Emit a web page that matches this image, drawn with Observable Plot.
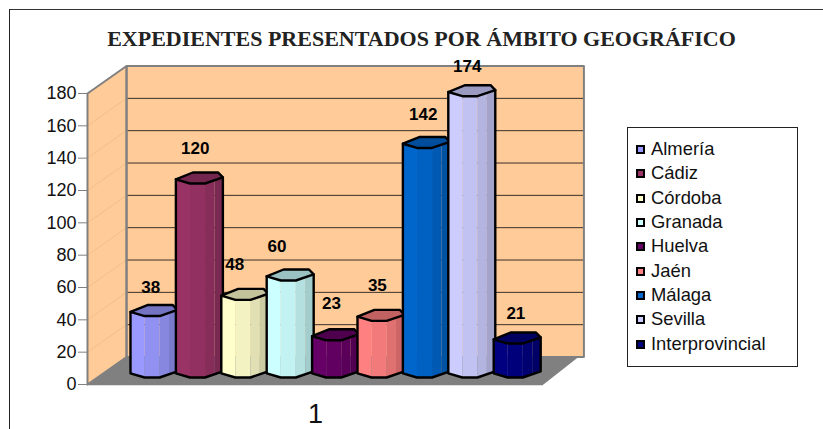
<!DOCTYPE html>
<html>
<head>
<meta charset="utf-8">
<script src="https://cdn.jsdelivr.net/npm/d3@7"></script>
<script src="https://cdn.jsdelivr.net/npm/@observablehq/plot@0.6"></script>
<style>
  html, body { margin: 0; padding: 0; background: #fff; }
  #chart { position: relative; width: 823px; height: 429px; overflow: hidden; }
  #chart svg { position: absolute; left: 0; top: 0; background: transparent; }
  #outline { position: absolute; left: 9px; top: 9px; width: 830px; height: 440px; border-left: 1px solid #222; border-top: 1px solid #333; }
  #legend { position: absolute; left: 627px; top: 127px; width: 169px; height: 238px; border: 1px solid #222; background: #fff; font: 18.4px "Liberation Sans", sans-serif; color: #111; }
  #legend div { position: absolute; left: 23px; line-height: 20px; white-space: nowrap; }
  #legend i { position: absolute; left: 8px; width: 5px; height: 5px; border: 2px solid #000; }
</style>
</head>
<body>
<div id="chart"><div id="outline"></div></div>
<script>
const titleText = "EXPEDIENTES PRESENTADOS POR ÁMBITO GEOGRÁFICO";
const categories = ["Almería", "Cádiz", "Córdoba", "Granada", "Huelva", "Jaén", "Málaga", "Sevilla", "Interprovincial"];
const values = [38, 120, 48, 60, 23, 35, 142, 174, 21];
const colors = ["#9999FF", "#993366", "#FFFFCC", "#CCFFFF", "#660066", "#FF8080", "#0066CC", "#CCCCFF", "#000080"];
const yTicks = [0, 20, 40, 60, 80, 100, 120, 140, 160, 180];
const xTickLabel = "1";

// Label nudges (category slots / value units), matching the reference placement
const labelNudge = [-0.07, -0.09, -0.22, -0.29, -0.09, -0.08, -0.07, -0.1, -0.03];
const labelLift = [-2.5, 1.2, 1.2, 0.6, 2.5, 1.2, 0, -1.9, -1.9];

// Projection constants, in data units
const DEPTH_X = 0.86, DEPTH_Y = 17;
const X_MIN = -0.947, X_MAX = 9.097;
const BACK_RIGHT = X_MAX + 0.89, FLOOR_RIGHT = X_MAX + 0.77;
const BASE = 4.33, WIDTH = 1.035;
const shades = [1, 0.95, 0.88, 0.8];
const bands = [0, 0.3, 0.62, 0.82, 1];
const rimL = 2.6, rimR = 3.8, rimTop = 6.8;

function rim(f) {
  if (f < 0.3) return rimL * (1 - f / 0.3);
  if (f <= 0.62) return 0;
  return rimR * (f - 0.62) / 0.38;
}
function shade(c, k) {
  const r = d3.rgb(c);
  return d3.rgb(r.r * k, r.g * k, r.b * k).formatHex();
}
const poly = (pts) => pts.map(([x, y]) => ({x, y}));
const closed = (pts) => poly([...pts, pts[0]]);
const shape = (pts, fill, stroke, strokeWidth = 1) =>
  Plot.line(closed(pts), {x: "x", y: "y", fill, stroke, strokeWidth});

const floor = [[X_MIN, 0], [X_MIN + DEPTH_X, DEPTH_Y], [FLOOR_RIGHT, DEPTH_Y], [X_MAX, 0]];
const sideWall = [[X_MIN, 0], [X_MIN, 180], [X_MIN + DEPTH_X, 180 + DEPTH_Y], [X_MIN + DEPTH_X, DEPTH_Y]];
const backWall = [[X_MIN + DEPTH_X, DEPTH_Y], [X_MIN + DEPTH_X, 180 + DEPTH_Y], [BACK_RIGHT, 180 + DEPTH_Y], [BACK_RIGHT, DEPTH_Y]];

const gridTicks = yTicks.slice(1, -1);
const backGrid = gridTicks.flatMap((t) => [
  {t, x: X_MIN + DEPTH_X, y: t + DEPTH_Y},
  {t, x: BACK_RIGHT, y: t + DEPTH_Y}
]);
const sideGrid = gridTicks.flatMap((t) => [
  {t, x: X_MIN, y: t},
  {t, x: X_MIN + DEPTH_X, y: t + DEPTH_Y}
]);

function cylinder(v, i) {
  const x = (f) => i + f * WIDTH;
  const top = v + BASE;
  const marks = [];
  bands.slice(0, -1).forEach((f, b) => {
    const g = bands[b + 1];
    const pts = [[x(f), BASE + rim(f)], [x(f), top + rim(f)]];
    pts.push([x(g), top + rim(g)], [x(g), BASE + rim(g)]);
    marks.push(shape(pts, shade(colors[i], shades[b]), "none"));
  });
  const body = [
    [x(0), top + rimL], [x(0), BASE + rimL], [x(0.3), BASE], [x(0.62), BASE],
    [x(1), BASE + rimR], [x(1), top + rimR]
  ];
  const cap = [
    [x(0), top + rimL], [x(0.3), top], [x(0.62), top], [x(1), top + rimR],
    [x(0.9), top + rimTop], [x(0.36), top + rimTop]
  ];
  marks.push(Plot.line(poly(body), {x: "x", y: "y", stroke: "#000", strokeWidth: 2.4}));
  marks.push(shape(cap, shade(colors[i], 0.76), "#000", 2.4));
  return marks;
}

const labels = values.map((v, i) => ({v, x: i + 0.5 * WIDTH + labelNudge[i], y: v + BASE + labelLift[i]}));

const plot = Plot.plot({
  width: 823,
  height: 429,
  marginTop: 93,
  marginBottom: 45,
  marginLeft: 87,
  marginRight: 280,
  style: {background: "transparent", fontFamily: "'Liberation Sans', sans-serif"},
  x: {domain: [X_MIN, X_MAX], axis: null},
  y: {domain: [0, 180]},
  marks: [
    shape(sideWall, "#FFCC99", "none"),
    shape(backWall, "#FFCC99", "none"),
    Plot.line(sideGrid, {x: "x", y: "y", z: "t", stroke: "#F2BE8C", strokeWidth: 1}),
    Plot.line(backGrid, {x: "x", y: "y", z: "t", stroke: "#3a3028", strokeWidth: 1}),
    shape(floor, "#808080", "none"),
    Plot.line(closed(sideWall), {x: "x", y: "y", stroke: "#808080", strokeWidth: 2}),
    Plot.line(closed(backWall), {x: "x", y: "y", stroke: "#808080", strokeWidth: 2}),
    Plot.ruleY([0], {stroke: "#808080", strokeWidth: 1.5}),
    Plot.axisY({
      anchor: "left",
      ticks: yTicks,
      tickSize: 9,
      tickPadding: 2,
      label: null,
      stroke: "#808080",
      fontSize: 18,
      color: "#111",
      tickFormat: (d) => String(d)
    }),
    ...values.flatMap(cylinder),
    Plot.text(labels, {
      x: "x", y: "y", text: "v", dy: -33,
      fontSize: 17, fontWeight: "bold", fill: "#000", stroke: "none"
    }),
    Plot.text([xTickLabel], {
      x: [(X_MIN + X_MAX) / 2], y: [0], dy: 30,
      fontSize: 27, fill: "#111"
    }),
    Plot.text([titleText], {
      frameAnchor: "top", dx: 106, dy: -55,
      fontFamily: "'Liberation Serif', serif",
      fontWeight: "bold", fontSize: 22, fill: "#222", lineAnchor: "middle"
    })
  ]
});
document.getElementById("chart").appendChild(plot);

const legend = document.createElement("div");
legend.id = "legend";
categories.forEach((c, i) => {
  const top = 11 + i * 24.35;
  const item = document.createElement("div");
  item.textContent = c;
  item.style.top = top + "px";
  legend.appendChild(item);
  const sw = document.createElement("i");
  sw.style.top = (top + 6) + "px";
  sw.style.background = colors[i];
  legend.appendChild(sw);
});
document.getElementById("chart").appendChild(legend);
</script>
</body>
</html>
